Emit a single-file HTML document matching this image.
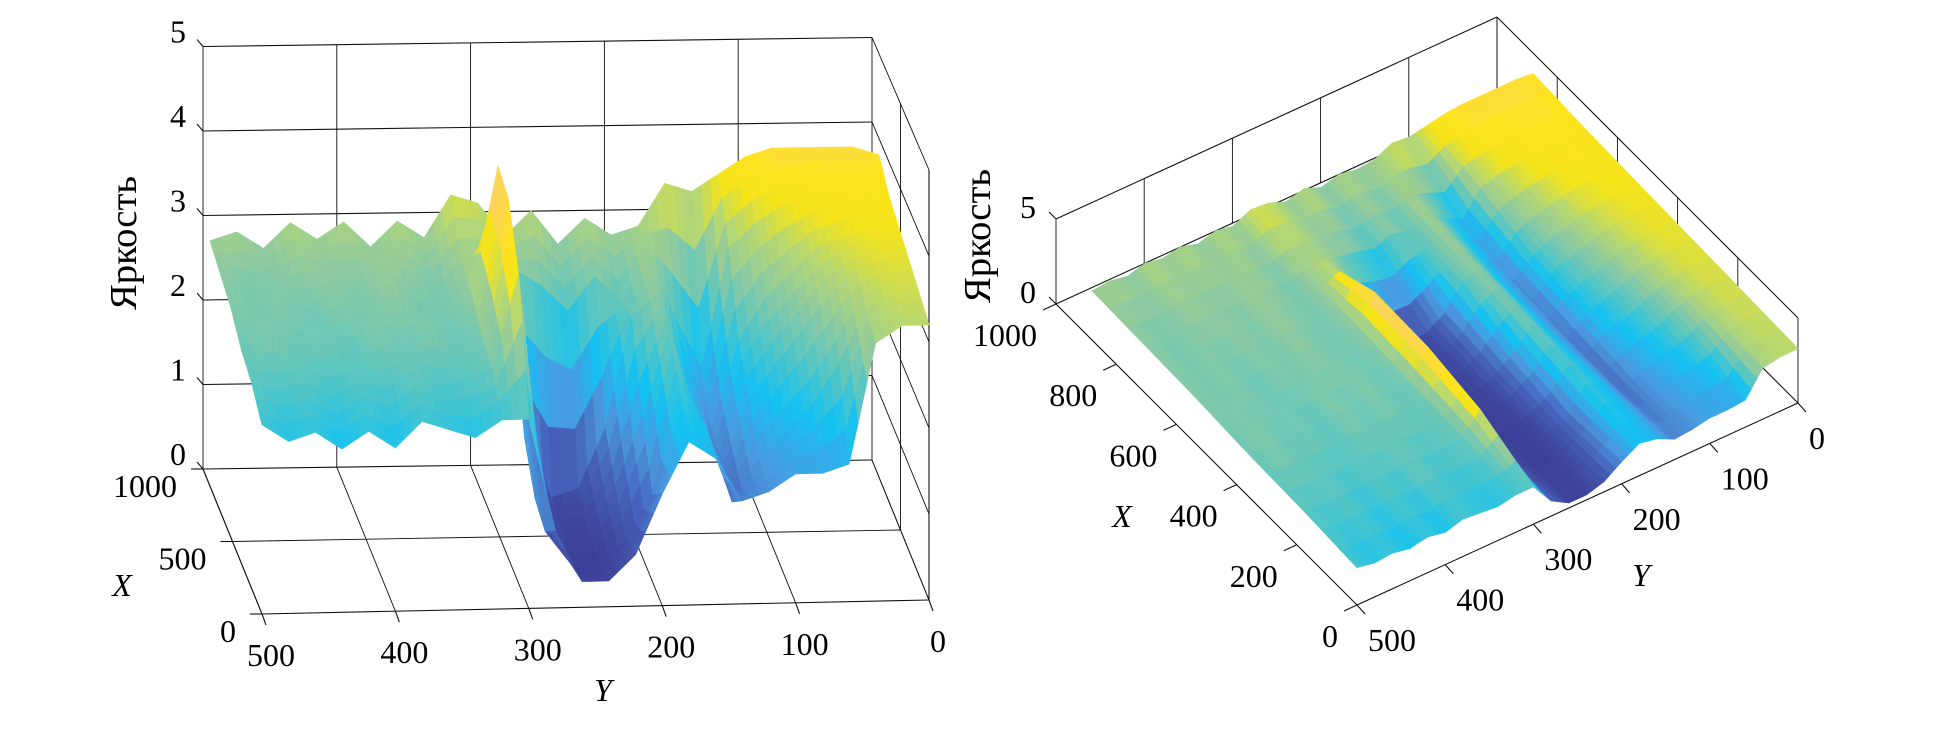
<!DOCTYPE html>
<html><head><meta charset="utf-8"><style>
html,body{margin:0;padding:0;background:#fff;}
svg{display:block;}
text{font-family:"Liberation Serif","DejaVu Serif",serif;fill:#000;}
</style></head><body>
<svg id="fig" width="1949" height="734" viewBox="0 0 1949 734" xmlns="http://www.w3.org/2000/svg">
<g id="left"></g>
<g id="right"></g>
</svg>
<script>
// ---- data ----
const rowsX = [0, 176, 352, 528, 704, 880];
const colsY = [0,20,40,60,80,100,120,140,160,180,200,220,240,260,280,300,320,340,360,380,400,420,440,460,480,500];
const zX0   = [3.2,3.2,3.0,1.6,1.5,1.5,1.3,1.2,1.7,1.9,1.3,0.6,0.3,0.3,0.9,2.2,2.2,2.0,2.1,2.2,1.9,2.1,1.9,2.1,2.0,2.2];
const zX176 = [3.3,3.3,3.1,2.5,2.0,1.7,1.4,0.9,1.8,2.2,1.0,0.5,0.2,0.2,0.6,3.6,2.5,2.4,2.3,2.5,2.3,2.4,2.2,2.4,2.3,2.4];
const zX352 = [3.4,3.4,3.3,3.0,2.6,2.2,1.8,1.0,1.7,2.6,1.6,0.8,0.3,0.3,0.7,4.2,2.6,2.5,2.7,2.5,2.7,2.4,2.6,2.5,2.7,2.5];
const zX528 = [3.5,3.5,3.4,3.3,3.0,2.7,2.2,1.2,1.8,2.8,2.5,1.2,0.5,0.4,1.1,4.3,2.8,2.6,2.6,2.8,2.6,2.7,2.5,2.7,2.6,2.7];
const zX704 = [3.6,3.7,3.7,3.6,3.5,3.3,3.0,1.6,2.2,3.0,2.4,2.7,2.3,2.6,2.8,3.0,2.9,2.6,2.8,2.9,2.7,2.8,2.8,2.7,2.6,2.8];
const zX880 = [3.8,3.9,3.9,3.9,3.9,3.8,3.6,3.4,3.5,3.0,2.9,3.1,2.8,3.2,2.9,3.3,3.4,2.9,3.1,2.8,3.1,2.9,3.1,2.8,3.0,2.9];
const zRows = [zX0, zX176, zX352, zX528, zX704, zX880];
const zTicksLeft = ["0","1","2","3","4","5"];
const yTicks = ["500","400","300","200","100","0"];
const xTicksLeft = ["1000","500","0"];
const zTicksRight = ["0","5"];
const xTicksRight = ["1000","800","600","400","200","0"];

const NS = "http://www.w3.org/2000/svg";
function mk(parent, tag, attrs){const e=document.createElementNS(NS,tag);for(const k in attrs)e.setAttribute(k,attrs[k]);parent.appendChild(e);return e;}
function lerp(a,b,t){return [a[0]+(b[0]-a[0])*t, a[1]+(b[1]-a[1])*t];}

// colormap (faded parula)
const cm = [[0.2,[60,62,150]],[0.8,[70,96,184]],[1.4,[74,155,224]],[1.9,[20,194,242]],[2.4,[92,198,192]],[2.8,[143,202,160]],[3.2,[184,216,112]],[3.5,[245,228,26]],[3.75,[255,227,30]],[4.1,[252,208,104]]];
function color(z){
  if(z<=cm[0][0]) return "rgb("+cm[0][1].join(",")+")";
  for(let i=1;i<cm.length;i++){ if(z<=cm[i][0]){const t=(z-cm[i-1][0])/(cm[i][0]-cm[i-1][0]);const a=cm[i-1][1],b=cm[i][1];return "rgb("+[0,1,2].map(k=>Math.round(a[k]+(b[k]-a[k])*t)).join(",")+")";}}
  return "rgb("+cm[cm.length-1][1].join(",")+")";
}

// projections
function Lbase(X,Y){const u=(500-Y)/500,v=X/1000;const back=lerp([203,469],[872,460],u),front=lerp([262,614],[929,600],u);return lerp(front,back,v);}
function Lp(X,Y,Z){const b=Lbase(X,Y);const up=84.5+(1-X/1000)*1.5;return [b[0],b[1]-up*Z];}
const RA=[1056,304],RB=[1497,102],RC=[1798,403],RD=[1357,605];
function Rbase(X,Y){const u=(500-Y)/500,v=X/1000;const far=lerp(RA,RB,u),near=lerp(RD,RC,u);return lerp(near,far,v);}
function Rp(X,Y,Z){const b=Rbase(X,Y);return [b[0],b[1]-17*Z];}

function line(g,p,q,name,w){const e=mk(g,"line",{x1:p[0].toFixed(1),y1:p[1].toFixed(1),x2:q[0].toFixed(1),y2:q[1].toFixed(1),stroke:"#111","stroke-width":w||1.1});


return e;}
function label(g,txt,x,y,name,anchor,italic){const t=mk(g,"text",{x:x.toFixed(1),y:y.toFixed(1),"font-size":"32","text-anchor":anchor||"middle","dominant-baseline":"central"});if(italic)t.setAttribute("font-style","italic");t.textContent=txt;


return t;}

function zAt(X,Y){
  let i=0;while(i<rowsX.length-2&&X>rowsX[i+1])i++;
  let j=0;while(j<colsY.length-2&&Y>colsY[j+1])j++;
  const tx=(X-rowsX[i])/(rowsX[i+1]-rowsX[i]),ty=(Y-colsY[j])/(colsY[j+1]-colsY[j]);
  const a=zRows[i][j],b=zRows[i][j+1],c=zRows[i+1][j],d=zRows[i+1][j+1];
  return (a*(1-ty)+b*ty)*(1-tx)+(c*(1-ty)+d*ty)*tx;
}
function surface(g,proj,base,name){
  const sg=mk(g,"g",{});
  
  
  const SUB=3,quads=[];
  const xs=[],ys=[];
  for(let i=0;i<rowsX.length-1;i++)for(let s=0;s<SUB;s++)xs.push(rowsX[i]+(rowsX[i+1]-rowsX[i])*s/SUB);
  xs.push(rowsX[rowsX.length-1]);
  for(let j=0;j<colsY.length-1;j++)for(let s=0;s<SUB;s++)ys.push(colsY[j]+(colsY[j+1]-colsY[j])*s/SUB);
  ys.push(colsY[colsY.length-1]);
  for(let a=0;a<xs.length-1;a++)for(let b=0;b<ys.length-1;b++){
    const c=[[xs[a],ys[b]],[xs[a],ys[b+1]],[xs[a+1],ys[b+1]],[xs[a+1],ys[b]]];
    const zs=c.map(p=>zAt(p[0],p[1]));
    const pts=c.map((p,k)=>proj(p[0],p[1],zs[k]));
    const zm=(zs[0]+zs[1]+zs[2]+zs[3])/4;
    const bc=base((xs[a]+xs[a+1])/2,(ys[b]+ys[b+1])/2);
    quads.push({pts,zm,d:bc[1]});
  }
  quads.sort((p,q)=>p.d-q.d);
  for(const q of quads){const col=color(q.zm);
    const e=mk(sg,"polygon",{points:q.pts.map(p=>p[0].toFixed(1)+","+p[1].toFixed(1)).join(" "),fill:col,stroke:col,"stroke-width":"0.8","stroke-linejoin":"round"});
    
    
  }
}

// ---- left plot ----
const L=document.getElementById("left");
const yVals=[500,400,300,200,100,0];
for(let z=0;z<=5;z++){line(L,Lp(1000,500,z),Lp(1000,0,z),"back-wall-gridline-z"+z);line(L,Lp(1000,0,z),Lp(0,0,z),"side-wall-gridline-z"+z,0.9);}
for(const y of yVals){line(L,Lp(1000,y,0),Lp(1000,y,5),"back-wall-gridline-y"+y,0.9);line(L,Lbase(1000,y),Lbase(0,y),"floor-gridline-y"+y,0.9);}
line(L,Lp(0,0,0),Lp(0,0,5),"side-wall-front-edge");
line(L,Lp(500,0,0),Lp(500,0,5),"side-wall-gridline-x500",0.9);
line(L,Lbase(500,500),Lbase(500,0),"floor-gridline-x500",0.9);
line(L,Lbase(0,500),Lbase(0,0),"floor-front-edge");
line(L,Lbase(1000,500),Lbase(0,500),"floor-left-edge");
surface(L,Lp,Lbase,"left-surface");
zTicksLeft.forEach((t,i)=>{const p=Lp(1000,500,i);line(L,p,[p[0]-6,p[1]-7],"z-tick");label(L,t,178,p[1]-15,"z-tick-label-"+t);});
yTicks.forEach((t,i)=>{const p=Lbase(0,yVals[i]);line(L,p,[p[0]+4,p[1]+11],"y-tick");label(L,t,p[0]+9,p[1]+41,"y-tick-label-"+t);});
[1000,500,0].forEach((x,i)=>{const p=Lbase(x,500);line(L,p,[p[0]-12,p[1]],"x-tick");label(L,xTicksLeft[i],p[0]-26,p[1]+17,"x-tick-label-"+xTicksLeft[i],"end");});
(function(){const t=mk(L,"text",{x:"0",y:"0","font-size":"38",transform:"translate(136,243) rotate(-90)","text-anchor":"middle",textLength:"134",lengthAdjust:"spacingAndGlyphs"});t.textContent="Яркость";

})();
label(L,"X",122,585,"x-axis-title-left","middle",true);
label(L,"Y",603,690,"y-axis-title-left","middle",true);

// ---- right plot ----
const R=document.getElementById("right");
const xVals=[1000,800,600,400,200,0];
for(const y of yVals)line(R,Rp(1000,y,0),Rp(1000,y,5),"back-wall-gridline-y"+y,0.9);
for(const x of xVals)line(R,Rp(x,0,0),Rp(x,0,5),"side-wall-gridline-x"+x,0.9);
line(R,Rp(1000,500,5),Rp(1000,0,5),"back-wall-top-edge");
line(R,Rp(1000,0,5),Rp(0,0,5),"side-wall-top-edge");
line(R,Rbase(1000,500),Rbase(1000,0),"back-wall-bottom-edge");
line(R,Rbase(1000,0),Rbase(0,0),"side-wall-bottom-edge");
line(R,Rbase(1000,500),Rbase(0,500),"floor-y500-edge");
line(R,Rbase(0,500),Rbase(0,0),"floor-x0-edge");
surface(R,Rp,Rbase,"right-surface");
zTicksRight.forEach((t,i)=>{const p=Rp(1000,500,i*5);line(R,p,[p[0]-7,p[1]-7],"z-tick");label(R,t,p[0]-28,p[1]-12,"z-tick-label-"+t);});
xTicksRight.forEach((t,i)=>{const p=Rbase(xVals[i],500);line(R,p,[p[0]-13,p[1]+6],"x-tick");label(R,t,p[0]-19,p[1]+31,"x-tick-label-"+t,"end");});
yTicks.forEach((t,i)=>{const p=Rbase(0,yVals[i]);line(R,p,[p[0]+8,p[1]+9],"y-tick");label(R,t,p[0]+11,p[1]+35,"y-tick-label-"+t,"start");});
(function(){const t=mk(R,"text",{x:"0",y:"0","font-size":"38",transform:"translate(990,236) rotate(-90)","text-anchor":"middle",textLength:"134",lengthAdjust:"spacingAndGlyphs"});t.textContent="Яркость";

})();
label(R,"X",1122,516,"x-axis-title-right","middle",true);
label(R,"Y",1641,575,"y-axis-title-right","middle",true);
</script>
</body></html>
